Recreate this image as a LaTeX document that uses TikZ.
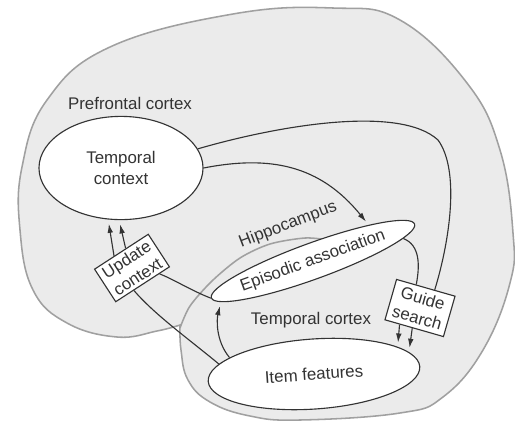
\documentclass[tikz,border=0pt]{standalone}
\usepackage{fontspec}
\setmainfont{Liberation Sans}
\usepackage{tikz}
\usetikzlibrary{arrows.meta,shapes.geometric}

\definecolor{lobefill}{HTML}{EBEBEB}
\definecolor{lobeedge}{HTML}{A0A0A0}
\definecolor{ink}{HTML}{333333}

\begin{document}
\begin{tikzpicture}[
    x=0.025cm, y=-0.025cm,
    region/.style={fill=lobefill, draw=lobeedge, line width=1.1pt},
    area/.style={draw=ink, fill=white, ellipse, line width=0.8pt, inner sep=0pt, align=center, text=ink, font=\fontsize{12}{15}\selectfont},
    stage/.style={draw=ink, fill=white, line width=0.8pt, inner sep=1pt, align=center, text=ink, font=\fontsize{12}{14.5}\selectfont},
    tag/.style={text=ink, font=\fontsize{12}{14}\selectfont},
    link/.style={draw=ink, line width=0.8pt},
    arr/.style={link, -{Latex[length=6.5pt,width=4pt]}, shorten >=3pt},
]
    \useasboundingbox (0,0) rectangle (515,423);

    \path[region] plot[smooth, tension=0.7] coordinates {(180,325) (157,331) (117,337) (67,323) (33,290) (20,230) (22,167) (47,100) (110,47) (233,14) (333,8) (400,20) (467,83) (500,150) (513,233) (510,283) (483,350) (443,397) (400,413) (300,420) (250,416) (210,402) (188,380) (181,350) (180,325)} -- cycle;
    \draw[lobeedge, line width=1.1pt] plot[smooth] coordinates {(180,328) (190,306) (212,281) (240,258) (270,244) (305,238) (328,240)};

    \node[area, minimum width=4.1cm, minimum height=2.58cm] (tc) at (121,168) {Temporal\\context};
    \node[area, minimum width=5.3cm, minimum height=0.9cm, rotate=20] (ea) at (313,261) {Episodic association};
    \node[area, minimum width=5.3cm, minimum height=1.75cm, rotate=4] (if) at (314,374) {Item features};
    \node[stage, minimum width=1.6cm, minimum height=0.97cm, rotate=33] (uc) at (132,268) {Update\\context};
    \node[stage, minimum width=1.52cm, minimum height=1.05cm, rotate=-16] (gs) at (420,308) {Guide\\search};
    \node[tag] (pfc) at (130,103) {Prefrontal cortex};
    \node[tag, rotate=21] (hip) at (288,225) {Hippocampus};
    \node[tag] (tcx) at (311,320) {Temporal cortex};

    \draw[link] (tc.14) .. controls (280,125) and (400,105) .. (438,140) .. controls (460,170) and (450,240) .. (gs.67);
    \draw[arr] (tc.0) .. controls (270,155) and (320,165) .. (ea.13);
    \draw[link] (ea.-6) .. controls (420,245) and (420,265) .. (gs.115);
    \draw[arr] (gs.235) -- (if.14);
    \draw[arr] (gs.265) -- (if.9);
    \draw[link] (ea.west) .. controls (190,290) and (175,280) .. (uc.-45);
    \draw[link] (if.170) .. controls (190,340) and (155,315) .. (uc.242);
    \draw[arr] (if.165) .. controls (215,340) and (217,318) .. (ea.184);
    \draw[arr] (uc.113) -- (tc.256);
    \draw[arr] (uc.75) -- (tc.268);
\end{tikzpicture}
\end{document}
